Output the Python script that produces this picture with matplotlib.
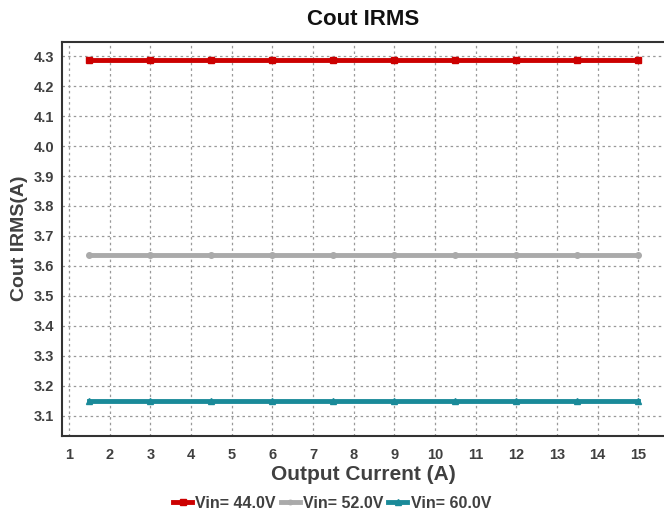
import matplotlib
matplotlib.use("Agg")
import matplotlib.pyplot as plt

plt.rcParams['font.family'] = ['Liberation Sans', 'DejaVu Sans']

x_current = [1.5, 3, 4.5, 6, 7.5, 9, 10.5, 12, 13.5, 15]
vin44 = [4.287] * 10
vin52 = [3.635] * 10
vin60 = [3.150] * 10
series_labels = ["Vin= 44.0V", "Vin= 52.0V", "Vin= 60.0V"]
x_ticks = list(range(1, 16))
y_ticks = [3.1, 3.2, 3.3, 3.4, 3.5, 3.6, 3.7, 3.8, 3.9, 4.0, 4.1, 4.2, 4.3]

txt = '#404040'
fig = plt.figure(figsize=(6.64, 5.16), dpi=100)
ax = fig.add_axes([0.094, 0.156, 0.906, 0.763])

ax.plot(x_current, vin44, color='#cc0000', lw=3.5, marker='s', ms=5, label=series_labels[0])
ax.plot(x_current, vin52, color='#aaaaaa', lw=3.5, marker='o', ms=4, label=series_labels[1])
ax.plot(x_current, vin60, color='#1a8a99', lw=3.5, marker='^', ms=5, label=series_labels[2])

ax.set_xlim(0.84, 15.63)
ax.set_ylim(3.034, 4.348)
ax.set_xticks(x_ticks)
ax.set_yticks(y_ticks)
ax.set_xticklabels([str(v) for v in x_ticks], fontsize=10.5, fontweight='bold', color=txt)
ax.set_yticklabels([f"{v:.1f}" for v in y_ticks], fontsize=10.5, fontweight='bold', color=txt)
ax.tick_params(axis='x', length=0, pad=9)
ax.tick_params(axis='y', length=0, pad=6)
ax.grid(True, color='#999999', linestyle=(0, (2, 2.5)), lw=0.9)
for s in ['left', 'top', 'bottom']:
    ax.spines[s].set_color('#333333')
    ax.spines[s].set_linewidth(1.5)
ax.spines['right'].set_visible(False)

ax.set_title("Cout IRMS", fontsize=16, fontweight='bold', color='#111111', pad=12)
ax.set_xlabel("Output Current (A)", fontsize=15, fontweight='bold', color=txt, labelpad=2)
ax.set_ylabel("Cout IRMS(A)", fontsize=14, fontweight='bold', color=txt, labelpad=4)

fig.legend(loc='center', bbox_to_anchor=(0.5, 0.025), ncol=3, frameon=False,
           handlelength=1.2, handletextpad=0.2, columnspacing=0.3,
           prop={'weight': 'bold', 'size': 11.5}, labelcolor=txt, markerscale=0.8)

fig.savefig("out.png", dpi=100)
